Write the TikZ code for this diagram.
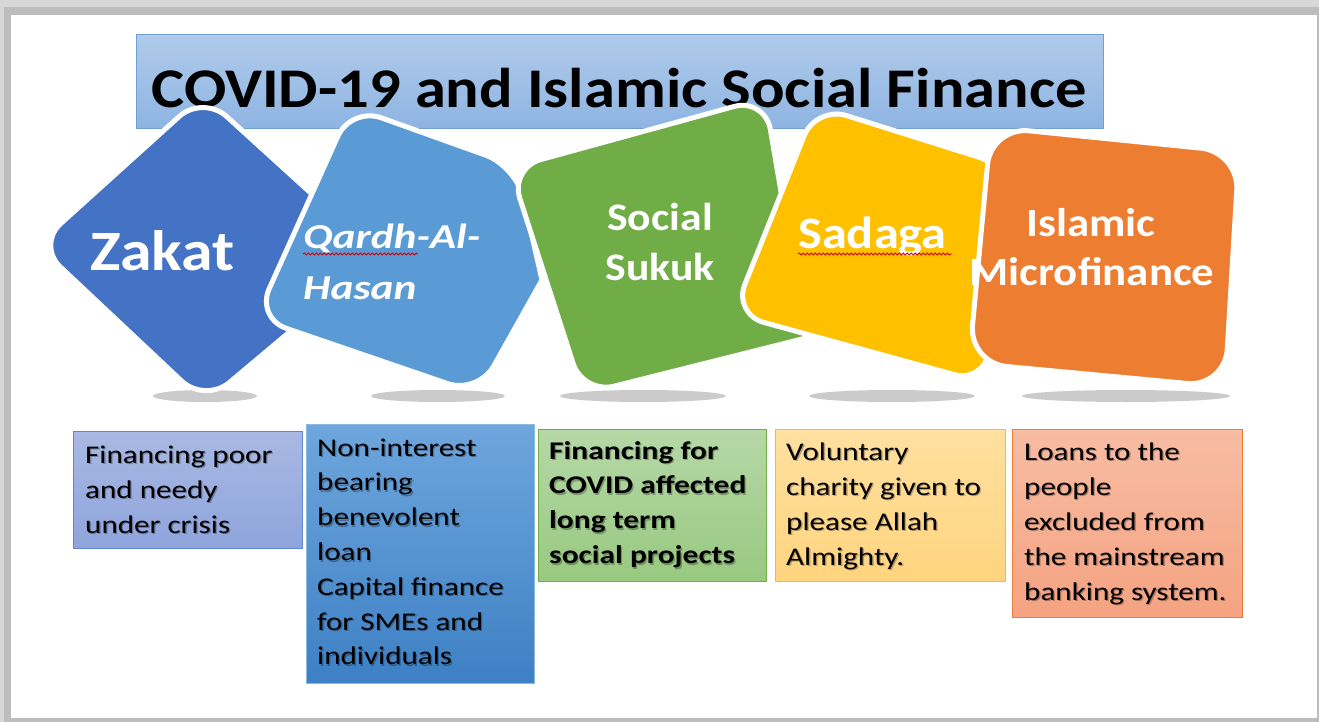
\documentclass[tikz,border=0pt]{standalone}
\usepackage{fontspec}
\setmainfont{Carlito}
\newfontfamily\headfont{Carlito}[FakeStretch=1.117]
\newfontfamily\shapefont{Carlito}[FakeStretch=1.12]
\newfontfamily\slantfont{Carlito}[FakeStretch=1.24]
\newfontfamily\notefont{Carlito}[FakeStretch=1.22]
\newfontfamily\notebold{Carlito}[FakeStretch=1.235]
\usetikzlibrary{decorations.pathmorphing}

\definecolor{frameLight}{HTML}{D8D8D8}
\definecolor{frameDark}{HTML}{BDBDBD}
\definecolor{titleTop}{HTML}{B0CBE9}
\definecolor{titleBot}{HTML}{8EB4E3}
\definecolor{titleLine}{HTML}{6FA0D8}
\definecolor{cZakat}{HTML}{4472C4}
\definecolor{cQardh}{HTML}{5B9BD5}
\definecolor{cSukuk}{HTML}{70AD47}
\definecolor{cSadaga}{HTML}{FFC000}
\definecolor{cMicro}{HTML}{ED7D31}
\definecolor{shadowGray}{HTML}{CBCBCB}
\definecolor{zTop}{HTML}{A9B9E3}
\definecolor{zBot}{HTML}{8EA4DC}
\definecolor{qTop}{HTML}{6EA6DD}
\definecolor{qBot}{HTML}{3D80C4}
\definecolor{sTop}{HTML}{B6D8A7}
\definecolor{sBot}{HTML}{98C980}
\definecolor{yTop}{HTML}{FFE0A0}
\definecolor{yBot}{HTML}{FFD47E}
\definecolor{mTop}{HTML}{F8BCA3}
\definecolor{mBot}{HTML}{F4A381}

\tikzset{
  petal/.style={draw=white, line width=5, rounded corners=32, line join=round, line cap=round},
  floor/.style={fill=shadowGray},
  notebox/.style={shade, draw, line width=1.2, inner sep=0, anchor=north west},
  note/.style={inner sep=0, anchor=base west, font=\notefont\fontsize{25.5}{30}\selectfont},
  boldnote/.style={note, font=\notebold\bfseries\fontsize{25.5}{30}\selectfont},
  haze/.style={text=black, opacity=0.28},
  petaltext/.style={inner sep=0, text=white, font=\shapefont\bfseries\fontsize{#1}{#1}\selectfont},
  spell/.style={draw=red!85!black, line width=0.8, decorate, decoration={snake, amplitude=1.1, segment length=4}},
}

% one line of box text with its soft drop shadow
\newcommand\noteline[4][note]{%
  \node[#1, haze] (#2-s) at ($(#3)+(1.3,1.6)$) {#4};
  \node[#1] (#2) at (#3) {#4};}

\usetikzlibrary{calc}

\begin{document}
\begin{tikzpicture}[x=1pt, y=-1pt]
\useasboundingbox (0,0) rectangle (1319,722);

% page frame with its soft gray edge
\fill[frameLight] (0,0) rectangle (1319,722);
\fill[frameDark] (4,7) rectangle (1319,722);
\fill[white] (11,15) rectangle (1317,718);

% heading banner
\node[shade, top color=titleTop, bottom color=titleBot, draw=titleLine, line width=1,
      minimum width=967, minimum height=94, inner sep=0] (banner) at (619.5,82) {};
\node[inner sep=0, anchor=base, font=\headfont\bfseries\fontsize{56}{56}\selectfont]
      (heading) at (619,108) {COVID-19 and Islamic Social Finance};

% floor shadows
\fill[floor] (205,396) ellipse [x radius=52, y radius=6];
\fill[floor] (438,396) ellipse [x radius=67, y radius=6];
\fill[floor] (643,396) ellipse [x radius=83, y radius=6];
\fill[floor] (892,396) ellipse [x radius=83, y radius=6];
\fill[floor] (1126,396) ellipse [x radius=104, y radius=6];

% the five instruments, back to front
\path[petal, fill=cZakat] (203,95) -- (380,256) -- (205,403) -- (37,245) -- cycle;
\path[petal, fill=cQardh] (542,280) -- (478,394) -- (256,318) -- (351,107) -- (516,166) -- (542,280);
\path[petal, fill=cSukuk] (806,338) -- (583,394) -- (510,168) -- (765,98) -- (806,338);
\path[petal, fill=cSadaga] (816,106) -- (1010,167) -- (985,383) -- (733,314) -- cycle;
\path[petal, fill=cMicro, rounded corners=38] (991,127) -- (1239,152) -- (1225,387) -- (969,363) -- cycle;

% instrument names
\node[petaltext=57, anchor=base west] (zakat) at (90,270) {Zakat};
\node[petaltext=35, anchor=base west, font=\slantfont\bfseries\itshape\fontsize{35}{35}\selectfont]
      (qardh1) at (303,248) {Qardh-Al-};
\node[petaltext=35, anchor=base west, font=\slantfont\bfseries\itshape\fontsize{35}{35}\selectfont]
      (qardh2) at (303,299) {Hasan};
\node[petaltext=39, anchor=base] (sukuk1) at (660,230) {Social};
\node[petaltext=39, anchor=base] (sukuk2) at (660,280) {Sukuk};
\node[petaltext=45, anchor=base west] (sadaga) at (798,248) {Sadaga};
\node[petaltext=40, anchor=base] (micro1) at (1091,236) {Islamic};
\node[petaltext=40, anchor=base] (micro2) at (1092,285) {Microfinance};

% proofing marks under the transliterated words
\draw[spell] (303,254) -- (418,254);
\draw[spell] (798,254) -- (952,254);

% description boxes
\node[notebox, top color=zTop, bottom color=zBot, draw=cZakat!85!white,
      minimum width=229, minimum height=117] (dZakat) at (73,431) {};
\node[notebox, top color=qTop, bottom color=qBot, draw=cQardh!70!white,
      minimum width=228, minimum height=259] (dQardh) at (306,424) {};
\node[notebox, top color=sTop, bottom color=sBot, draw=cSukuk,
      minimum width=228, minimum height=152] (dSukuk) at (538,429) {};
\node[notebox, top color=yTop, bottom color=yBot, draw=cSadaga,
      minimum width=230, minimum height=152] (dSadaga) at (775,429) {};
\node[notebox, top color=mTop, bottom color=mBot, draw=cMicro,
      minimum width=230, minimum height=188] (dMicro) at (1012,429) {};

\foreach [count=\i] \t in {Financing poor, and needy, under crisis}
  {\noteline{tZakat\i}{85,{463+35*(\i-1)}}{\t}}
\foreach [count=\i] \t in {Non-interest, bearing, benevolent, loan, Capital finance, for SMEs and, individuals}
  {\noteline{tQardh\i}{317,{456+34.8*(\i-1)}}{\t}}
\foreach [count=\i] \t in {Financing for, COVID affected, long term, social projects}
  {\noteline[boldnote]{tSukuk\i}{549,{459+34.8*(\i-1)}}{\t}}
\foreach [count=\i] \t in {Voluntary, charity given to, please Allah, Almighty.}
  {\noteline{tSadaga\i}{786,{460+35*(\i-1)}}{\t}}
\foreach [count=\i] \t in {Loans to the, people, excluded from, the mainstream, banking system.}
  {\noteline{tMicro\i}{1024,{460+35*(\i-1)}}{\t}}
\end{tikzpicture}
\end{document}
